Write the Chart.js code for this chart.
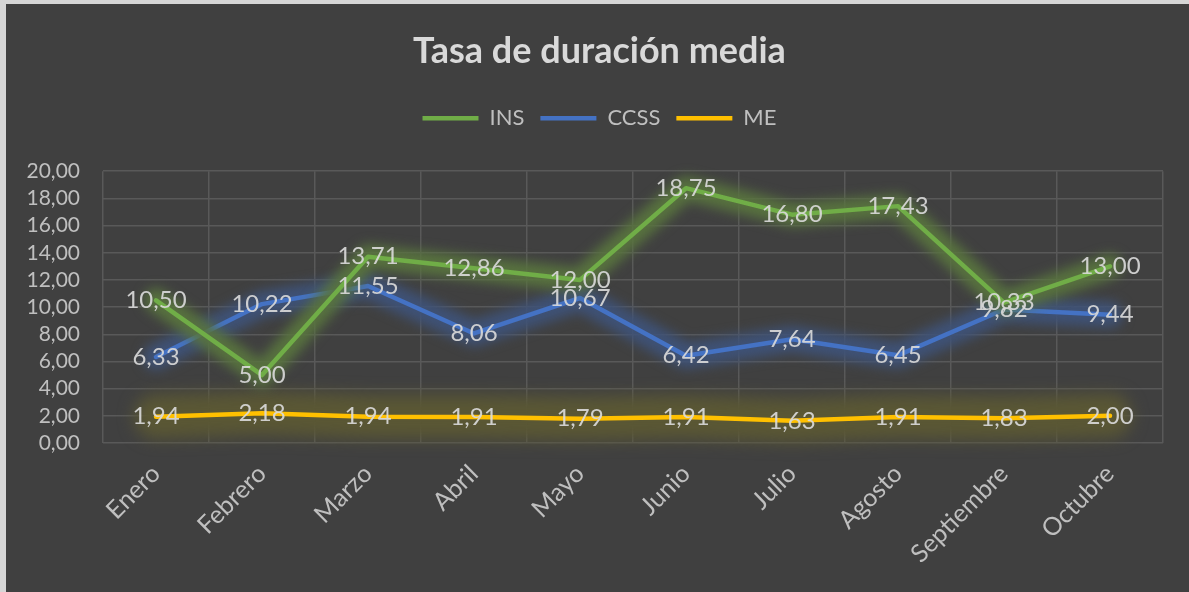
<!DOCTYPE html>
<html>
<head>
<meta charset="utf-8">
<script src="https://cdn.jsdelivr.net/npm/chart.js@4"></script>
<style>
  html, body { margin: 0; padding: 0; background: #d6d6d6; }
  #wrap { position: absolute; left: 6px; top: 4px; width: 1183px; height: 588px; background: #404040; }
</style>
</head>
<body>
<div id="wrap"><canvas id="myChart"></canvas></div>
<script>
  let meses = ['Enero', 'Febrero', 'Marzo', 'Abril', 'Mayo', 'Junio', 'Julio', 'Agosto', 'Septiembre', 'Octubre'];
  let insData = [10.50, 5.00, 13.71, 12.86, 12.00, 18.75, 16.80, 17.43, 10.33, 13.00];
  let ccssData = [6.33, 10.22, 11.55, 8.06, 10.67, 6.42, 7.64, 6.45, 9.82, 9.44];
  let meData = [1.94, 2.18, 1.94, 1.91, 1.79, 1.91, 1.63, 1.91, 1.83, 2.00];
  let glowColors = ['rgba(88,116,62,0.95)', 'rgba(62,82,120,0.95)', 'rgba(90,87,52,1)'];
  let glowWidths = [24, 26, 44];

  function fmt(v) {
    return v.toFixed(2).replace('.', ',');
  }

  // soft glow painted under each line, following the line's own points
  let glowPlugin = {
    id: 'glow',
    beforeDatasetDraw(chart, args) {
      let ctx = chart.ctx;
      let pts = args.meta.data;
      ctx.save();
      ctx.filter = 'blur(' + (args.index == 2 ? 8 : 6) + 'px)';
      ctx.strokeStyle = glowColors[args.index];
      ctx.lineWidth = glowWidths[args.index];
      ctx.lineJoin = 'round';
      ctx.lineCap = 'round';
      ctx.beginPath();
      pts.forEach(function(p, i) {
        if (i == 0) ctx.moveTo(p.x, p.y);
        else ctx.lineTo(p.x, p.y);
      });
      ctx.stroke();
      ctx.restore();
    }
  };

  // extra room under the legend
  let legendGap = {
    id: 'legendGap',
    beforeLayout(chart) {
      let lg = chart.legend;
      if (lg && !lg._patched) {
        let fit = lg.fit;
        lg.fit = function() {
          fit.apply(this, arguments);
          this.height += 32;
        };
        lg._patched = true;
      }
    }
  };

  // value labels centred on the points
  let labelPlugin = {
    id: 'valueLabels',
    afterDatasetsDraw(chart) {
      let ctx = chart.ctx;
      ctx.save();
      ctx.font = '24px Lato';
      ctx.fillStyle = 'rgba(217,217,217,0.92)';
      ctx.textAlign = 'center';
      ctx.textBaseline = 'middle';
      chart.data.datasets.forEach(function(ds, i) {
        let meta = chart.getDatasetMeta(i);
        meta.data.forEach(function(pt, j) {
          ctx.fillText(fmt(ds.data[j]), pt.x, pt.y);
        });
      });
      ctx.restore();
    }
  };

  let ctx = document.getElementById('myChart');
  let myChart = new Chart(ctx, {
    type: 'line',
    data: {
      labels: meses,
      datasets: [
        { label: 'INS', data: insData, borderColor: '#70AD47', backgroundColor: '#70AD47', borderWidth: 4.5 },
        { label: 'CCSS', data: ccssData, borderColor: '#4472C4', backgroundColor: '#4472C4', borderWidth: 4.5 },
        { label: 'ME', data: meData, borderColor: '#FFC000', backgroundColor: '#FFC000', borderWidth: 4.5 }
      ]
    },
    plugins: [glowPlugin, legendGap, labelPlugin],
    options: {
      responsive: true,
      maintainAspectRatio: false,
      animation: false,
      layout: { padding: { left: 4, right: 0, top: 0, bottom: 0 } },
      elements: {
        line: { tension: 0, borderCapStyle: 'round', borderJoinStyle: 'round' },
        point: { radius: 0, hoverRadius: 0 }
      },
      plugins: {
        title: {
          display: true,
          text: 'Tasa de duración media',
          color: '#d9d9d9',
          font: { family: 'Lato', size: 36, weight: 'bold' },
          padding: { top: 26, bottom: 18 }
        },
        legend: {
          labels: {
            color: '#bfbfbf',
            font: { family: 'Lato', size: 22 },
            usePointStyle: true,
            pointStyle: 'line',
            pointStyleWidth: 56,
            padding: 16
          }
        },
        tooltip: { enabled: false }
      },
      scales: {
        x: {
          offset: true,
          grid: { color: '#595959', lineWidth: 1.5, offset: true, drawTicks: false },
          border: { display: false },
          ticks: {
            color: '#bfbfbf',
            font: { family: 'Lato', size: 25 },
            maxRotation: 45,
            minRotation: 45,
            padding: 16
          },
          afterFit(scale) { scale.height = 149; }
        },
        y: {
          min: 0,
          max: 20,
          grid: { color: '#595959', lineWidth: 1.5, drawTicks: false },
          border: { display: false },
          ticks: {
            stepSize: 2,
            autoSkip: false,
            color: '#bfbfbf',
            font: { family: 'Lato', size: 21 },
            padding: 23,
            callback: function(v) { return fmt(v); }
          },
          afterFit(scale) { scale.width = 93; }
        },
        yRight: {
          position: 'right',
          grid: { display: false },
          border: { display: false },
          ticks: { display: false },
          afterFit(scale) { scale.width = 26; }
        }
      }
    }
  });
</script>
</body>
</html>
